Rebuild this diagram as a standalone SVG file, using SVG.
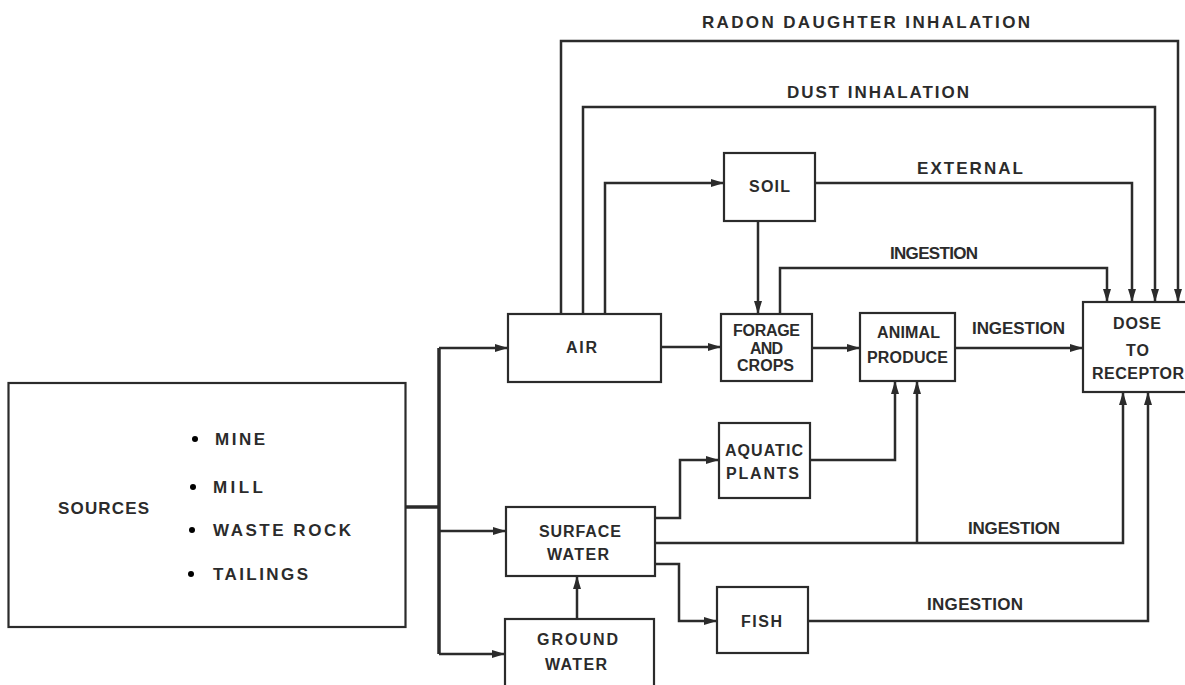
<svg xmlns="http://www.w3.org/2000/svg" width="1185" height="685" viewBox="0 0 1185 685">
<style>
  .box { fill: #fff; stroke: #2b2b2b; stroke-width: 2.2; }
  .c { fill: none; stroke: #2b2b2b; stroke-width: 2.5; stroke-linejoin: miter; }
  .trunk { fill: none; stroke: #2b2b2b; stroke-width: 3.5; }
  .a { marker-end: url(#arr); }
  text { font-family: "Liberation Sans", Arial, sans-serif; font-weight: bold; font-size: 16px; fill: #2b2b2b; }
  .lbl { font-size: 17px; }
  .m { text-anchor: middle; }
</style>
<defs>
  <marker id="arr" markerUnits="userSpaceOnUse" markerWidth="14" markerHeight="9" refX="13" refY="4" orient="auto">
    <path d="M0,0 L13,4 L0,8 z" fill="#2b2b2b"/>
  </marker>
</defs>
<rect width="1185" height="685" fill="#fff"/>

<g id="connectors">
  <path class="trunk" d="M405 507 H439"/>
  <path class="trunk" d="M439 348 V654"/>
  <path class="c a" d="M439 348 H508"/>
  <path class="c a" d="M439 531 H506"/>
  <path class="c a" d="M439 654 H505"/>
  <path class="c a" d="M561 314 V41 H1178 V302"/>
  <path class="c a" d="M583 314 V107 H1155 V302"/>
  <path class="c a" d="M605 314 V183 H724"/>
  <path class="c a" d="M815 183 H1132 V302"/>
  <path class="c a" d="M758 221 V314"/>
  <path class="c a" d="M780 314 V268 H1107 V302"/>
  <path class="c a" d="M661 347 H721"/>
  <path class="c a" d="M812 348 H860"/>
  <path class="c a" d="M955 348 H1083"/>
  <path class="c a" d="M655 518 H680 V460 H719"/>
  <path class="c a" d="M810 460 H895 V381"/>
  <path class="c a" d="M655 543 H1123 V392"/>
  <path class="c a" d="M917 543 V381"/>
  <path class="c a" d="M655 564 H679 V621 H717"/>
  <path class="c a" d="M808 621 H1148 V392"/>
  <path class="c a" d="M577 619 V576"/>
</g>

<g id="labels">
  <text class="lbl" x="702" y="28" textLength="328" lengthAdjust="spacing">RADON DAUGHTER INHALATION</text>
  <text class="lbl" x="787" y="98" textLength="182" lengthAdjust="spacing">DUST  INHALATION</text>
  <text class="lbl" x="917" y="174" textLength="106" lengthAdjust="spacing">EXTERNAL</text>
  <text class="lbl" x="890" y="259" textLength="88" lengthAdjust="spacing">INGESTION</text>
  <text class="lbl" x="972" y="334" textLength="93" lengthAdjust="spacing">INGESTION</text>
  <text class="lbl" x="968" y="534" textLength="92" lengthAdjust="spacing">INGESTION</text>
  <text class="lbl" x="927" y="610" textLength="96" lengthAdjust="spacing">INGESTION</text>
</g>

<g id="sources">
  <rect class="box" x="8.5" y="383" width="397" height="244"/>
  <text class="lbl" x="58" y="514" textLength="91" lengthAdjust="spacing">SOURCES</text>
  <circle cx="195" cy="439" r="3"/>
  <circle cx="193" cy="487" r="3"/>
  <circle cx="192" cy="530" r="3"/>
  <circle cx="191" cy="574" r="3"/>
  <text class="lbl" x="215" y="445" textLength="50" lengthAdjust="spacing">MINE</text>
  <text class="lbl" x="213" y="493" textLength="50" lengthAdjust="spacing">MILL</text>
  <text class="lbl" x="213" y="536" textLength="138" lengthAdjust="spacing">WASTE ROCK</text>
  <text class="lbl" x="213" y="580" textLength="95" lengthAdjust="spacing">TAILINGS</text>
</g>

<g id="air">
  <rect class="box" x="508" y="314" width="153" height="68"/>
  <text x="566" y="353" textLength="31" lengthAdjust="spacing">AIR</text>
</g>

<g id="soil">
  <rect class="box" x="724" y="153" width="91" height="68"/>
  <text x="749" y="192" textLength="41" lengthAdjust="spacing">SOIL</text>
</g>

<g id="forage">
  <rect class="box" x="721" y="314" width="91" height="67"/>
  <text x="733" y="336" textLength="67" lengthAdjust="spacing">FORAGE</text>
  <text x="750" y="354" textLength="33" lengthAdjust="spacing">AND</text>
  <text x="737" y="371" textLength="57" lengthAdjust="spacing">CROPS</text>
</g>

<g id="animal">
  <rect class="box" x="860" y="313" width="95" height="68"/>
  <text x="877" y="338" textLength="63" lengthAdjust="spacing">ANIMAL</text>
  <text x="867" y="363" textLength="81" lengthAdjust="spacing">PRODUCE</text>
</g>

<g id="dose">
  <rect class="box" x="1083" y="302" width="130" height="90"/>
  <text x="1113" y="329" textLength="48" lengthAdjust="spacing">DOSE</text>
  <text x="1126" y="356" textLength="23" lengthAdjust="spacing">TO</text>
  <text x="1092" y="379" textLength="92" lengthAdjust="spacing">RECEPTOR</text>
</g>

<g id="aquatic">
  <rect class="box" x="719" y="423" width="91" height="75"/>
  <text x="725" y="456" textLength="78" lengthAdjust="spacing">AQUATIC</text>
  <text x="726" y="479" textLength="73" lengthAdjust="spacing">PLANTS</text>
</g>

<g id="surface">
  <rect class="box" x="506" y="507" width="149" height="69"/>
  <text x="539" y="537" textLength="82" lengthAdjust="spacing">SURFACE</text>
  <text x="547" y="560" textLength="62" lengthAdjust="spacing">WATER</text>
</g>

<g id="fish">
  <rect class="box" x="717" y="587" width="91" height="66"/>
  <text x="741" y="627" textLength="41" lengthAdjust="spacing">FISH</text>
</g>

<g id="ground">
  <rect class="box" x="505" y="619" width="149" height="80"/>
  <text x="537" y="645" textLength="81" lengthAdjust="spacing">GROUND</text>
  <text x="545" y="670" textLength="62" lengthAdjust="spacing">WATER</text>
</g>
</svg>
